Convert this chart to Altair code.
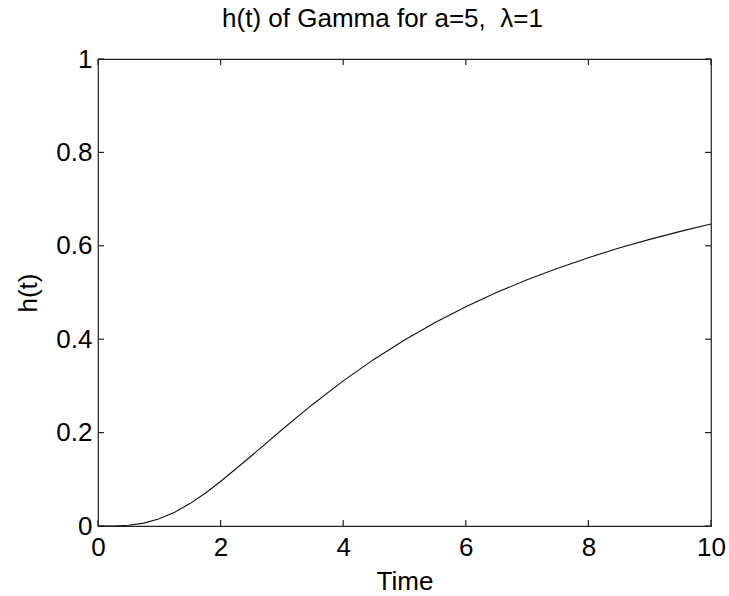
import altair as alt
import pandas as pd

# Values
t_vals = [0, 0.25, 0.5, 0.75, 1.0, 1.25, 1.5, 1.75, 2.0, 2.5, 3.0, 3.5, 4.0, 4.5,
          5.0, 5.5, 6.0, 6.5, 7.0, 7.5, 8.0, 8.5, 9.0, 9.5, 10.0]
h_vals = [0.0, 0.0001, 0.0016, 0.0062, 0.0154, 0.0294, 0.048, 0.0702, 0.0952,
          0.1499, 0.2061, 0.2603, 0.3107, 0.3567, 0.3983, 0.4358, 0.4696, 0.4999,
          0.5273, 0.5521, 0.5746, 0.5951, 0.6138, 0.6309, 0.6467]
x_ticks = [0, 2, 4, 6, 8, 10]
y_ticks = [0, 0.2, 0.4, 0.6, 0.8, 1]

W, H = 613, 467
TL = 6
FONT = "Liberation Sans"

curve = pd.DataFrame({"t": t_vals, "h": h_vals})
xt = pd.DataFrame({"t": x_ticks})
yt = pd.DataFrame({"h": y_ticks})

xs = alt.Scale(domain=[0, 10], nice=False, zero=False)
ys = alt.Scale(domain=[0, 1], nice=False, zero=False)

line = alt.Chart(curve).mark_line(color="#111", strokeWidth=1.1).encode(
    x=alt.X("t:Q", scale=xs, title="Time",
            axis=alt.Axis(values=x_ticks, format="~g", grid=False, ticks=False,
                          domain=False, labelPadding=8, titlePadding=8,
                          labelFontSize=26, titleFontSize=26, labelFont=FONT,
                          titleFont=FONT, titleFontWeight="normal",
                          labelColor="#000", titleColor="#000", labelFlush=False)),
    y=alt.Y("h:Q", scale=ys, title="h(t)",
            axis=alt.Axis(values=y_ticks, format="~g", grid=False, ticks=False,
                          domain=False, labelPadding=6, titlePadding=14,
                          labelFontSize=26, titleFontSize=26, labelFont=FONT,
                          titleFont=FONT, titleFontWeight="normal",
                          labelColor="#000", titleColor="#000", labelFlush=False)),
)

tick_style = dict(color="#222", strokeWidth=1.2)
xb = alt.Chart(xt).mark_rule(**tick_style).encode(
    x=alt.X("t:Q", scale=xs), y=alt.value(H), y2=alt.value(H - TL))
xtop = alt.Chart(xt).mark_rule(**tick_style).encode(
    x=alt.X("t:Q", scale=xs), y=alt.value(0), y2=alt.value(TL))
yl = alt.Chart(yt).mark_rule(**tick_style).encode(
    y=alt.Y("h:Q", scale=ys), x=alt.value(0), x2=alt.value(TL))
yr = alt.Chart(yt).mark_rule(**tick_style).encode(
    y=alt.Y("h:Q", scale=ys), x=alt.value(W), x2=alt.value(W - TL))

chart = alt.layer(line, xb, xtop, yl, yr).properties(
    width=W, height=H,
    title=alt.TitleParams("h(t) of Gamma for a=5,\u00a0 λ=1", font=FONT, fontSize=26,
                          fontWeight="normal", color="#000", offset=14, dx=-22),
    autosize=alt.AutoSizeParams(type="none"),
    padding={"left": 98, "top": 59, "right": 18, "bottom": 70},
    background="white",
).configure_view(stroke="#222", strokeWidth=1.2)

chart.save("out.html", embed_options={"renderer": "svg", "actions": False})
